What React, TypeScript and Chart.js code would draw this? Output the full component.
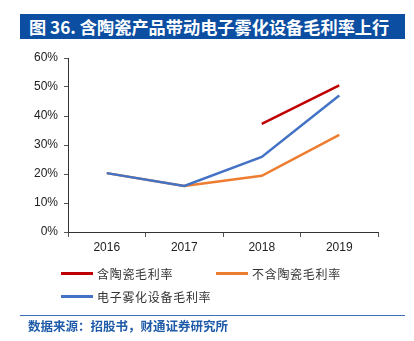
import React, { useEffect, useRef } from "react";
import { Chart, registerables } from "chart.js";

Chart.register(...registerables);

const categories = ["2016", "2017", "2018", "2019"];
const withCeramic = [null, null, 37.3, 50.6];
const withoutCeramic = [20.3, 15.9, 19.4, 33.5];
const atomizer = [20.3, 15.9, 25.9, 47.1];
const yTicks = [0, 10, 20, 30, 40, 50, 60];

const seriesNames = ["含陶瓷毛利率", "不含陶瓷毛利率", "电子雾化设备毛利率"];
const seriesColors = ["#C00000", "#ED7D31", "#4472C4"];

const title = "图 36. 含陶瓷产品带动电子雾化设备毛利率上行";
const source = "数据来源：招股书，财通证券研究所";

export default function App() {
  const ref = useRef<HTMLCanvasElement>(null);
  useEffect(() => {
    document.body.style.margin = "0";
    const canvasTop = 40;
    const canvasH = 225;
    const chart = new Chart(ref.current!, {
      type: "line",
      data: {
        labels: categories,
        datasets: [
          {
            label: seriesNames[2],
            data: atomizer,
            borderColor: seriesColors[2],
            backgroundColor: seriesColors[2],
            borderWidth: 2.5,
            pointRadius: 0,
            order: 0,
          },
          {
            label: seriesNames[0],
            data: withCeramic,
            borderColor: seriesColors[0],
            backgroundColor: seriesColors[0],
            borderWidth: 2.5,
            pointRadius: 0,
            order: 1,
          },
          {
            label: seriesNames[1],
            data: withoutCeramic,
            borderColor: seriesColors[1],
            backgroundColor: seriesColors[1],
            borderWidth: 2.5,
            pointRadius: 0,
            order: 2,
          },
        ],
      },
      options: {
        responsive: false,
        animation: false,
        layout: { padding: { top: 58 - canvasTop, right: 36, left: 0, bottom: 0 } },
        plugins: { legend: { display: false }, tooltip: { enabled: false } },
        scales: {
          x: {
            offset: true,
            grid: {
              offset: true,
              drawOnChartArea: false,
              tickLength: 5,
              color: "#555",
            },
            border: { color: "#333", width: 1 },
            ticks: {
              color: "#222",
              font: { family: "Liberation Sans, Arial", size: 12 },
              padding: 3,
            },
            afterFit: (s: any) => {
              s.height = canvasTop + canvasH - 232;
            },
          },
          y: {
            min: 0,
            max: 60,
            afterBuildTicks: (s: any) => {
              s.ticks = yTicks.map((v) => ({ value: v }));
            },
            grid: {
              drawOnChartArea: false,
              tickLength: 4,
              color: "#555",
            },
            border: { color: "#333", width: 1 },
            ticks: {
              color: "#222",
              font: { family: "Liberation Sans, Arial", size: 12 },
              padding: 6,
              callback: (v: any) => v + "%",
            },
            afterFit: (s: any) => {
              s.width = 68;
            },
          },
        },
      },
    });
    return () => chart.destroy();
  }, []);

  const legendItem = (i: number, left: number, top: number) => (
    <div
      key={i}
      style={{
        position: "absolute",
        left,
        top: top - 9,
        height: 18,
        display: "flex",
        alignItems: "center",
      }}
    >
      <div style={{ width: 32, height: 3, background: seriesColors[i], marginRight: 4 }} />
      <span
        style={{
          fontFamily: "'Noto Sans CJK SC', sans-serif",
          fontSize: 12,
          letterSpacing: 0.7,
          color: "#333",
          whiteSpace: "nowrap",
        }}
      >
        {seriesNames[i]}
      </span>
    </div>
  );

  return (
    <div
      style={{
        position: "absolute",
        left: 0,
        top: 0,
        width: 414,
        height: 341,
        background: "#fff",
        overflow: "hidden",
      }}
    >
      <div
        style={{
          position: "absolute",
          left: 20,
          top: 14,
          width: 385,
          height: 25,
          background: "#0B4EA2",
          color: "#fff",
          fontFamily: "'Noto Sans CJK SC', sans-serif",
          fontWeight: 700,
          fontSize: 17.2,
          lineHeight: "25px",
          paddingLeft: 9,
          boxSizing: "border-box",
          whiteSpace: "nowrap",
        }}
      >
        {title}
      </div>
      <canvas
        ref={ref}
        width={414}
        height={225}
        style={{ position: "absolute", left: 0, top: 40, width: 414, height: 225 }}
      />
      {legendItem(0, 61, 273)}
      {legendItem(1, 216, 273)}
      {legendItem(2, 61, 296)}
      <div
        style={{
          position: "absolute",
          left: 20,
          top: 315,
          width: 385,
          height: 1,
          background: "#3A6DB5",
        }}
      />
      <div
        style={{
          position: "absolute",
          left: 28,
          top: 317,
          fontFamily: "'Noto Sans CJK SC', sans-serif",
          fontWeight: 700,
          fontSize: 12.5,
          lineHeight: "17px",
          color: "#1F5BA8",
          whiteSpace: "nowrap",
        }}
      >
        {source}
      </div>
    </div>
  );
}
